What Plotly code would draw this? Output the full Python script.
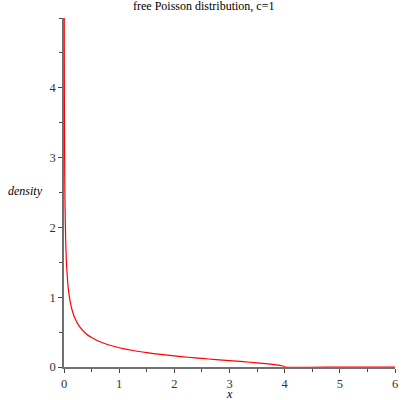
import plotly.graph_objects as go

# values
x_vals = [0.002, 0.004, 0.006, 0.008, 0.01, 0.015, 0.02, 0.03, 0.04, 0.05, 0.065,
          0.08, 0.1, 0.125, 0.15, 0.2, 0.25, 0.3, 0.4, 0.5, 0.6, 0.8, 1.0, 1.25,
          1.5, 1.75, 2.0, 2.25, 2.5, 2.75, 3.0, 3.25, 3.5, 3.7, 3.85, 3.95, 3.99,
          4.0, 5.0, 6.0]
density = [7.1, 5.02, 4.10, 3.55, 3.18, 2.59, 2.25, 1.83, 1.58, 1.41, 1.24,
           1.11, 0.994, 0.886, 0.806, 0.694, 0.618, 0.559, 0.477, 0.421, 0.379,
           0.318, 0.276, 0.236, 0.205, 0.180, 0.159, 0.140, 0.123, 0.107, 0.092,
           0.076, 0.060, 0.045, 0.031, 0.018, 0.008, 0.0, 0.0, 0.0]
x_ticks = [0, 1, 2, 3, 4, 5, 6]
y_ticks = [0, 1, 2, 3, 4]
title_text = "free Poisson distribution, c=1"

FONT = "Liberation Serif, Times New Roman, serif"

fig = go.Figure()
fig.add_trace(go.Scatter(x=x_vals, y=density, mode="lines",
                         line=dict(color="#ff0000", width=1.2, shape="spline",
                                   smoothing=0.5),
                         hoverinfo="skip", showlegend=False))

axis_common = dict(showgrid=False, zeroline=False,
                   showline=True, linecolor="#707070", linewidth=1.6,
                   ticks="outside", ticklen=4, tickcolor="#444", tickwidth=1,
                   tickfont=dict(family=FONT, size=12.5, color="#333"),
                   layer="below traces", fixedrange=True)

fig.update_layout(
    width=402, height=400,
    margin=dict(l=64, r=4, t=18, b=33),
    paper_bgcolor="white", plot_bgcolor="white",
    font=dict(family=FONT, size=13, color="#333"),
    xaxis=dict(range=[0, 6], tickvals=x_ticks, ticklabelstandoff=0,
               minor=dict(dtick=0.5, ticks="outside", ticklen=3, tickcolor="#444"),
               **axis_common),
    yaxis=dict(range=[0, 5], tickvals=y_ticks,
               minor=dict(dtick=0.5, ticks="outside", ticklen=3, tickcolor="#444"),
               **axis_common),
    annotations=[
        dict(text=title_text, xref="paper", yref="paper", x=0.42, y=1.0, yshift=3,
             xanchor="center", yanchor="bottom", showarrow=False,
             font=dict(family=FONT, size=12, color="#000")),
        dict(text="<i>density</i>", xref="paper", yref="paper", x=0, xshift=-39, y=0.5,
             yshift=2, xanchor="center", yanchor="middle", showarrow=False,
             font=dict(family=FONT, size=12, color="#000")),
        dict(text="<i>x</i>", xref="paper", yref="paper", x=0.5, y=0, yshift=-27,
             xanchor="center", yanchor="middle", showarrow=False,
             font=dict(family=FONT, size=12, color="#000")),
    ],
)

fig.write_html("out.html", config={"displayModeBar": False})
with open("out.html", encoding="utf-8") as f:
    html = f.read()
html = html.replace("<body>", '<body style="margin:0;padding:0;overflow:hidden">', 1)
with open("out.html", "w", encoding="utf-8") as f:
    f.write(html)
